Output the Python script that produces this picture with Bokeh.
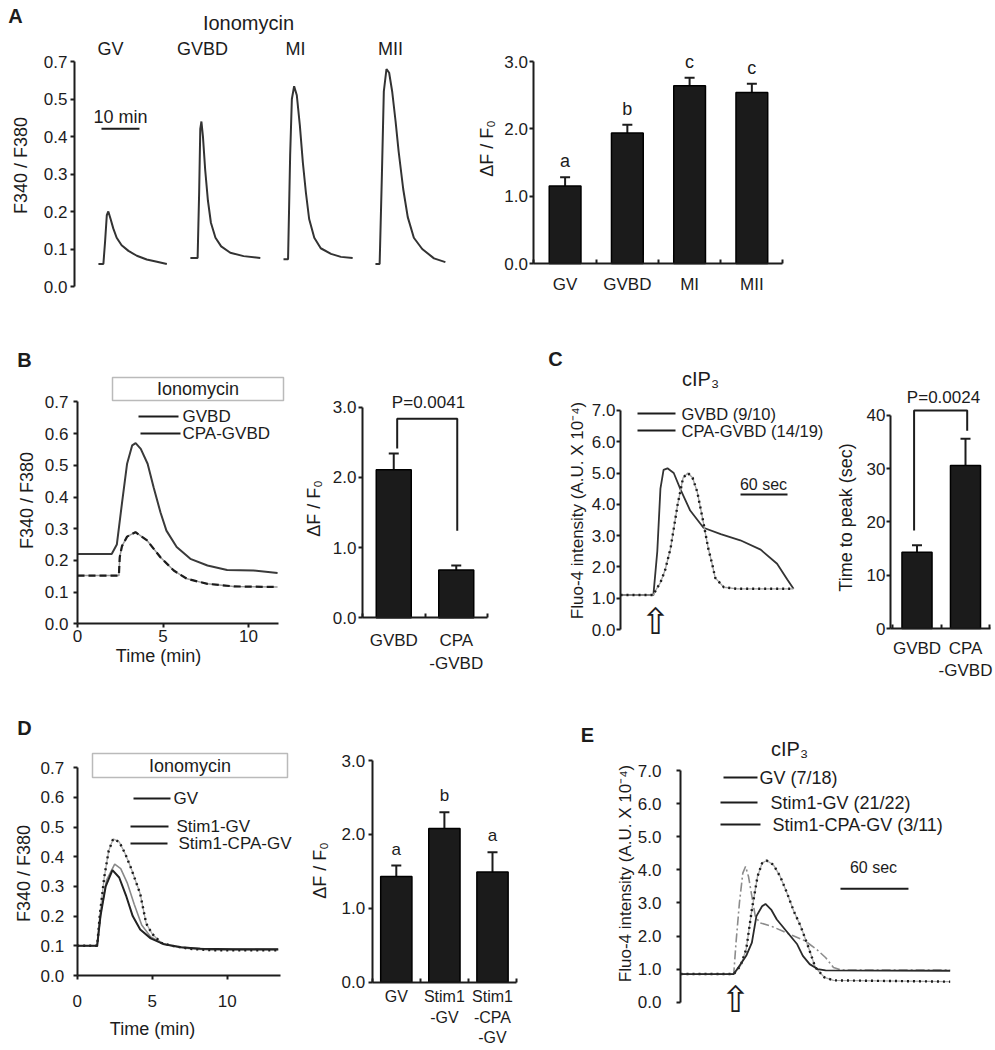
import json
import math
from bokeh.plotting import figure
from bokeh.layouts import row, column
from bokeh.models import (Label, BoxAnnotation, Whisker, TeeHead, ColumnDataSource,
                          FixedTicker, PrintfTickFormatter, CustomJSTickFormatter, Range1d)
from bokeh.embed import file_html
from bokeh.resources import INLINE

# ---------------- data ----------------
# Panel A: ionomycin traces (time in min from trace start, F340/F380)
A_stages = ["GV", "GVBD", "MI", "MII"]
A_gv_t = [0, 1.3, 1.75, 2.2, 2.6, 3.2, 3.9, 4.8, 6.1, 7.9, 10.1, 12.7, 15.4, 18.0]
A_gv_v = [0.06, 0.06, 0.12, 0.19, 0.20, 0.18, 0.155, 0.13, 0.11, 0.095, 0.082, 0.072, 0.066, 0.06]
A_gvbd_t = [0, 1.9, 2.3, 2.6, 2.9, 3.3, 3.9, 4.6, 5.4, 6.6, 8.1, 10.5, 14.0, 18.4]
A_gvbd_v = [0.076, 0.076, 0.25, 0.42, 0.44, 0.40, 0.31, 0.23, 0.17, 0.13, 0.107, 0.09, 0.081, 0.076]
A_mi_t = [0, 1.2, 1.75, 2.2, 2.8, 3.5, 4.3, 5.1, 5.9, 6.75, 8.1, 9.8, 12.5, 15.1, 18.2]
A_mi_v = [0.073, 0.073, 0.35, 0.50, 0.534, 0.51, 0.43, 0.33, 0.25, 0.18, 0.13, 0.102, 0.087, 0.079, 0.076]
A_mii_t = [0, 1.1, 1.7, 2.2, 2.9, 3.6, 4.4, 5.3, 6.1, 7.3, 8.5, 10.1, 12.3, 15.4, 18.4]
A_mii_v = [0.06, 0.06, 0.30, 0.52, 0.58, 0.57, 0.52, 0.44, 0.36, 0.26, 0.185, 0.13, 0.10, 0.075, 0.065]
A_y_ticks = [0.0, 0.1, 0.2, 0.3, 0.4, 0.5, 0.6]
A_y_labels = ["0.0", "0.1", "0.2", "0.3", "0.4", "0.5", "0.7"]

# Panel A bars
A_bar_cats = ["GV", "GVBD", "MI", "MII"]
A_bar_mean = [1.15, 1.94, 2.64, 2.54]
A_bar_sem = [0.13, 0.12, 0.12, 0.13]
A_bar_letters = ["a", "b", "c", "c"]

# Panel B traces (min, F340/F380)
B_gvbd_t = [0, 2.0, 2.3, 2.6, 2.9, 3.2, 3.4, 3.7, 4.1, 4.45, 4.85, 5.2, 5.8, 6.6, 7.6, 8.75, 10.3, 11.7]
B_gvbd_v = [0.22, 0.22, 0.25, 0.38, 0.505, 0.563, 0.57, 0.552, 0.505, 0.431, 0.352, 0.294, 0.242, 0.205, 0.184, 0.17, 0.168, 0.16]
B_cpa_t = [0, 2.42, 2.47, 2.6, 2.9, 3.39, 4.07, 4.85, 5.63, 6.4, 7.6, 9.14, 11.7]
B_cpa_v = [0.152, 0.152, 0.21, 0.245, 0.275, 0.289, 0.263, 0.21, 0.168, 0.142, 0.126, 0.118, 0.116]
B_bar_cats = ["GVBD", "CPA\n-GVBD"]
B_bar_mean = [2.11, 0.68]
B_bar_sem = [0.23, 0.065]
B_p_text = "P=0.0041"

# Panel C traces (sec, Fluo-4 intensity)
C_gvbd_t = [0, 42, 47, 51, 55, 60, 68, 77, 89, 106, 128, 153, 179, 200, 213, 221]
C_gvbd_v = [1.1, 1.1, 2.5, 4.5, 5.1, 5.15, 5.0, 4.45, 3.8, 3.25, 3.05, 2.85, 2.55, 2.1, 1.6, 1.3]
C_cpa_t = [0, 42, 46, 51, 57, 64, 73, 80, 86, 92, 98, 106, 112, 117, 121, 132, 149, 221]
C_cpa_v = [1.1, 1.1, 1.3, 1.5, 1.9, 2.6, 4.0, 4.85, 5.0, 4.85, 4.4, 3.4, 2.6, 2.1, 1.65, 1.35, 1.3, 1.3]
C_bar_cats = ["GVBD", "CPA\n-GVBD"]
C_bar_mean = [14.3, 30.6]
C_bar_sem = [1.3, 5.0]
C_p_text = "P=0.0024"

# Panel D traces (min, F340/F380)
D_gv_t = [0, 1.33, 1.55, 1.9, 2.35, 2.8, 3.25, 3.7, 4.2, 4.9, 5.8, 6.9, 8.2, 10.4, 13.4]
D_gv_v = [0.1, 0.1, 0.2, 0.3, 0.355, 0.33, 0.27, 0.2, 0.155, 0.125, 0.105, 0.095, 0.09, 0.088, 0.088]
D_sgv_t = [0, 1.33, 1.5, 1.8, 2.1, 2.4, 2.8, 3.2, 3.6, 4.2, 4.6, 5.0, 5.6, 6.3, 7.5, 9.0, 13.4]
D_sgv_v = [0.1, 0.1, 0.2, 0.33, 0.42, 0.46, 0.45, 0.41, 0.36, 0.275, 0.175, 0.14, 0.11, 0.1, 0.09, 0.085, 0.085]
D_scpa_t = [0, 1.33, 1.6, 1.95, 2.5, 2.9, 3.35, 3.8, 4.3, 4.9, 5.8, 7.0, 8.5, 13.4]
D_scpa_v = [0.1, 0.1, 0.22, 0.32, 0.375, 0.36, 0.31, 0.24, 0.17, 0.13, 0.105, 0.095, 0.09, 0.088]
D_bar_cats = ["GV", "Stim1\n-GV", "Stim1\n-CPA\n-GV"]
D_bar_mean = [1.43, 2.08, 1.49]
D_bar_sem = [0.15, 0.22, 0.27]
D_bar_letters = ["a", "b", "a"]

# Panel E traces (sec, Fluo-4 intensity)
E_gv_t = [0, 47, 53, 58, 63, 67, 72, 75, 80, 85, 91, 97, 103, 108, 114, 121, 128, 238]
E_gv_v = [0.85, 0.85, 1.15, 1.4, 1.8, 2.6, 2.9, 2.97, 2.8, 2.5, 2.25, 2.0, 1.75, 1.4, 1.15, 1.0, 0.96, 0.95]
E_sgv_t = [0, 47, 53, 58, 63, 68, 72, 76, 82, 88, 94, 100, 106, 113, 119, 127, 135, 238]
E_sgv_v = [0.85, 0.85, 1.1, 1.6, 2.8, 3.8, 4.2, 4.28, 4.15, 3.8, 3.3, 2.75, 2.3, 1.65, 1.05, 0.75, 0.66, 0.62]
E_scpa_t = [0, 47, 49, 52, 55, 57.4, 60, 63, 66, 70, 80, 90, 100, 110, 120, 128, 135, 142, 238]
E_scpa_v = [0.85, 0.85, 1.8, 3.0, 3.9, 4.1, 3.8, 3.2, 2.6, 2.4, 2.3, 2.15, 2.0, 1.85, 1.6, 1.35, 1.05, 0.97, 0.97]

# ---------------- styling helpers ----------------
FONT = "Liberation Sans"
INK = "#1c1c1c"
FLUO = "Fluo-4 intensity (A.U. X 10\u207b\u2074)"
DFF = "\u0394F / F\u2080"
TICK = "17px"


class Panel:
    """A figure whose frame fills the whole figure; page pixels <-> data."""

    def __init__(self, X0, X1, Y0, Y1, xmap, ymap):
        self.px, self.vx, self.sx = xmap
        self.py, self.vy, self.sy = ymap
        xr = (self.vx - (self.px - X0) / self.sx, self.vx + (X1 - self.px) / self.sx)
        yr = (self.vy - (Y1 - self.py) / self.sy, self.vy + (self.py - Y0) / self.sy)
        p = figure(width=X1 - X0, height=Y1 - Y0, x_range=Range1d(*xr), y_range=Range1d(*yr),
                   output_backend="svg", toolbar_location=None, title=None,
                   min_border_left=0, min_border_right=0, min_border_top=0, min_border_bottom=0)
        p.outline_line_color = None
        p.xgrid.visible = False
        p.ygrid.visible = False
        p.border_fill_color = "white"
        p.background_fill_color = "white"
        for ax in (p.xaxis[0], p.yaxis[0]):
            ax.axis_line_color = INK
            ax.axis_line_width = 2
            ax.major_tick_line_color = INK
            ax.major_tick_line_width = 2
            ax.major_tick_in = 0
            ax.major_tick_out = 4
            ax.minor_tick_line_color = None
            ax.major_label_text_font = FONT
            ax.major_label_text_font_size = TICK
            ax.major_label_text_color = INK
            ax.major_label_standoff = 4
        self.p = p

    def dx(self, X):
        return self.vx + (X - self.px) / self.sx

    def dy(self, Y):
        return self.vy + (self.py - Y) / self.sy

    def text(self, X, Y, s, size="17px", align="center", bold=False, font=FONT, angle=0.0):
        self.p.add_layout(Label(x=self.dx(X), y=self.dy(Y), text=s, text_font=font,
                                text_font_size=size, text_align=align, text_baseline="middle",
                                text_color=INK, angle=angle,
                                text_font_style="bold" if bold else "normal"))

    def ytitle(self, X, Y, s, size="18px"):
        self.text(X, Y, s, size=size, angle=math.pi / 2)

    def hline(self, X0, X1, Y, width=2):
        self.p.line([self.dx(X0), self.dx(X1)], [self.dy(Y), self.dy(Y)],
                    line_color=INK, line_width=width)

    def legend_item(self, X0, X1, Y, Xt, s, size="17px"):
        self.hline(X0, X1, Y)
        self.text(Xt, Y, s, size=size, align="left")

    def yaxis(self, ticks, fmt, top, loc, standoff):
        ax = self.p.yaxis[0]
        ax.fixed_location = loc
        ax.ticker = FixedTicker(ticks=ticks)
        ax.formatter = fmt if not isinstance(fmt, str) else PrintfTickFormatter(format=fmt)
        ax.bounds = (0, top)
        ax.major_label_standoff = standoff

    def time_xaxis(self, ticks, end, standoff):
        ax = self.p.xaxis[0]
        ax.fixed_location = 0
        ax.ticker = FixedTicker(ticks=ticks)
        ax.formatter = PrintfTickFormatter(format="%d")
        ax.bounds = (0, end)
        ax.major_label_standoff = standoff

    def bars(self, cats, means, sems, width, standoff, xbounds, label_size=TICK):
        xs = list(range(1, len(cats) + 1))
        src = ColumnDataSource(dict(x=xs, top=means, upper=[m + s for m, s in zip(means, sems)]))
        self.p.vbar(x="x", top="top", width=width, source=src, fill_color="#1b1b1b",
                    line_color="black", line_width=1.5)
        self.p.add_layout(Whisker(base="x", lower="top", upper="upper", source=src,
                                  line_color=INK, line_width=2, lower_head=None,
                                  upper_head=TeeHead(size=10, line_color=INK, line_width=2)))
        ax = self.p.xaxis[0]
        ax.fixed_location = 0
        ax.bounds = xbounds
        ax.ticker = FixedTicker(ticks=xs, minor_ticks=[0.5 + i for i in range(len(xs) + 1)])
        ax.major_label_overrides = {x: c for x, c in zip(xs, cats)}
        ax.major_tick_out = 0
        ax.minor_tick_line_color = INK
        ax.minor_tick_line_width = 2
        ax.minor_tick_in = 4
        ax.minor_tick_out = 0
        ax.major_label_standoff = standoff
        ax.major_label_text_font_size = label_size
        return xs

    def bracket(self, x0, x1, ytop, y0, y1):
        self.p.line([x0, x0, x1, x1], [y0, ytop, ytop, y1], line_color=INK, line_width=2)


# ---------------- Panel A traces ----------------
A = Panel(0, 470, 0, 320, (74, 0, 3.8), (286, 0, 375))
A.p.xaxis.visible = False
a_map = {f"{t:.1f}": s for t, s in zip(A_y_ticks, A_y_labels)}
A.yaxis(A_y_ticks, CustomJSTickFormatter(code=f"const m = {json.dumps(a_map)}; return m[tick.toFixed(1)];"),
        0.6, 0, 3)
offsets = [6.3, 30.5, 55.0, 79.2]
for off, t, v in zip(offsets, [A_gv_t, A_gvbd_t, A_mi_t, A_mii_t], [A_gv_v, A_gvbd_v, A_mi_v, A_mii_v]):
    A.p.line([off + ti for ti in t], v, line_color="#333333", line_width=2)
for X, s in zip([110, 202, 295, 390], A_stages):
    A.text(X, 48, s, size="18px")
A.text(248, 22, "Ionomycin", size="20px")
A.p.line([7.1, 17.1], [0.421, 0.421], line_color=INK, line_width=2)
A.text(120, 116, "10 min", size="18px")
A.text(15, 15, "A", size="20px", bold=True)
A.ytitle(20, 165, "F340 / F380")

# ---------------- Panel A bars ----------------
A2 = Panel(470, 800, 0, 320, (564.6, 1, 62.25), (263, 0, 67.33))
xs = A2.bars(A_bar_cats, A_bar_mean, A_bar_sem, 0.51, 11, (0.5, 4.5))
A2.yaxis([0, 1, 2, 3], "%.1f", 3, 0.5, 2)
for x, m, s, l in zip(xs, A_bar_mean, A_bar_sem, A_bar_letters):
    A2.p.add_layout(Label(x=x, y=m + s + 0.24, text=l, text_font=FONT, text_font_size="18px",
                          text_align="center", text_baseline="middle", text_color=INK))
A2.ytitle(486, 148, DFF)

# ---------------- Panel B traces ----------------
B = Panel(0, 300, 320, 680, (77, 0, 17.1), (623.3, 0, 317))
B.yaxis([0, 0.1, 0.2, 0.3, 0.4, 0.5, 0.6, 0.7], "%.1f", 0.7, 0, 5)
B.time_xaxis([0, 5, 10], 11.75, 2)
B.p.line(B_gvbd_t, B_gvbd_v, line_color="#3a3a3a", line_width=2)
B.p.line(B_cpa_t, B_cpa_v, line_color="#9a9a9a", line_width=1.5)
B.p.line(B_cpa_t, B_cpa_v, line_color=INK, line_width=2.2, line_dash="7 4")
B.p.add_layout(BoxAnnotation(left=B.dx(112), right=B.dx(283), bottom=B.dy(400), top=B.dy(377),
                             fill_color="white", fill_alpha=1, line_color=INK, line_width=1.5))
B.text(197.5, 388, "Ionomycin", size="18px")
B.legend_item(138, 178, 416, 182, "GVBD")
B.legend_item(140, 180, 433, 182, "CPA-GVBD")
B.text(24, 359, "B", size="20px", bold=True)
B.ytitle(26, 500, "F340 / F380")
B.text(158, 655, "Time (min)", size="18px")

# ---------------- Panel B bars ----------------
B2 = Panel(300, 500, 320, 680, (393.25, 1, 62.5), (617.3, 0, 70.2))
B2.bars(B_bar_cats, B_bar_mean, B_bar_sem, 0.56, 13, (0.5, 2.5))
B2.yaxis([0, 1, 2, 3], "%.1f", 3, 0.5, 2)
B2.bracket(1.055, 2.016, 2.835, 2.41, 1.24)
B2.text(428, 402, B_p_text, size="17px")
B2.ytitle(313, 508, DFF)

# ---------------- Panel C traces ----------------
C = Panel(500, 832, 320, 680, (620, 0, 0.783), (629, 0, 31.3))
C.p.xaxis.visible = False
C.yaxis([0, 1, 2, 3, 4, 5, 6, 7], "%.1f", 7, 0, 1)
C.p.line(C_gvbd_t, C_gvbd_v, line_color="#333333", line_width=1.8)
C.p.line(C_cpa_t, C_cpa_v, line_color="#a0a0a0", line_width=1.3)
C.p.line(C_cpa_t, C_cpa_v, line_color=INK, line_width=2.4, line_dash="2 4")
C.legend_item(637, 675, 413, 681, "GVBD (9/10)", size="16.5px")
C.legend_item(637, 675, 430, 681, "CPA-GVBD (14/19)", size="16.5px")
C.text(700, 378, "cIP\u2083", size="20px")
C.p.line([153.3, 213.3], [4.31, 4.31], line_color=INK, line_width=2)
C.text(763, 484, "60 sec", size="16px")
C.text(655, 621, "\u21e7", size="36px", font="DejaVu Sans")
C.text(555, 358, "C", size="20px", bold=True)
C.ytitle(577, 510, FLUO, size="17px")

# ---------------- Panel C bars ----------------
C2 = Panel(832, 993, 320, 680, (916.5, 1, 48.5), (628, 0, 5.33))
axis_x = C2.dx(890)
C2.bars(C_bar_cats, C_bar_mean, C_bar_sem, 0.62, 10, (axis_x, C2.dx(990)))
C2.yaxis([0, 10, 20, 30, 40], "%d", 40, axis_x, 1)
C2.bracket(0.94, 2.035, 40.9, 18.4, 37.1)
C2.text(943, 397, C_p_text, size="17px")
C2.ytitle(845, 517, "Time to peak (sec)")

# ---------------- Panel D traces ----------------
D = Panel(0, 300, 680, 1050, (76.7, 0, 15), (975, 0, 297))
D.yaxis([0, 0.1, 0.2, 0.3, 0.4, 0.5, 0.6, 0.7], "%.1f", 0.7, 0, 9)
D.time_xaxis([0, 5, 10], 13.53, 15)
D.p.line(D_scpa_t, D_scpa_v, line_color="#8a8a8a", line_width=1.6)
D.p.line(D_sgv_t, D_sgv_v, line_color="#a8a8a8", line_width=1.3)
D.p.line(D_sgv_t, D_sgv_v, line_color=INK, line_width=2.4, line_dash="2 4")
D.p.line(D_gv_t, D_gv_v, line_color="#222222", line_width=2)
D.p.add_layout(BoxAnnotation(left=D.dx(92), right=D.dx(287), bottom=D.dy(777), top=D.dy(753),
                             fill_color="white", fill_alpha=1, line_color=INK, line_width=1.5))
D.text(189.5, 765, "Ionomycin", size="18px")
D.legend_item(133, 170, 798, 173, "GV")
D.legend_item(130, 168, 826, 176, "Stim1-GV")
D.legend_item(130, 167, 843, 178, "Stim1-CPA-GV")
D.text(24, 727, "D", size="20px", bold=True)
D.ytitle(23, 873, "F340 / F380")
D.text(152, 1028, "Time (min)", size="18px")

# ---------------- Panel D bars ----------------
D2 = Panel(300, 530, 680, 1050, (395.8, 1, 48.1), (981.7, 0, 73.9))
xs = D2.bars(D_bar_cats, D_bar_mean, D_bar_sem, 0.65, 6, (0.5, 3.5), label_size="16px")
D2.yaxis([0, 1, 2, 3], "%.1f", 3, 0.5, 3)
for x, m, s, l in zip(xs, D_bar_mean, D_bar_sem, D_bar_letters):
    D2.p.add_layout(Label(x=x, y=m + s + 0.22, text=l, text_font=FONT, text_font_size="17px",
                          text_align="center", text_baseline="middle", text_color=INK))
D2.ytitle(319, 870, DFF)

# ---------------- Panel E traces ----------------
E = Panel(530, 993, 680, 1050, (680, 0, 1.133), (1001.7, 0, 33.1))
E.p.xaxis.visible = False
E.yaxis([0, 1, 2, 3, 4, 5, 6, 7], "%.1f", 7, 0, 15)
E.p.line(E_scpa_t, E_scpa_v, line_color="#8c8c8c", line_width=1.6, line_dash="9 3 2 3")
E.p.line(E_sgv_t, E_sgv_v, line_color="#a8a8a8", line_width=1.3)
E.p.line(E_sgv_t, E_sgv_v, line_color=INK, line_width=2.4, line_dash="2 4")
E.p.line(E_gv_t, E_gv_v, line_color="#2a2a2a", line_width=1.8)
E.legend_item(723, 757, 777, 759, "GV (7/18)", size="18px")
E.legend_item(720, 757, 802, 770, "Stim1-GV (21/22)", size="18px")
E.legend_item(720, 760, 824, 772, "Stim1-CPA-GV (3/11)", size="18px")
E.text(789, 748, "cIP\u2083", size="20px")
E.p.line([141.2, 201.2], [3.43, 3.43], line_color=INK, line_width=2)
E.text(873, 867, "60 sec", size="16px")
E.text(735, 999, "\u21e7", size="36px", font="DejaVu Sans")
E.text(587, 734, "E", size="20px", bold=True)
E.ytitle(625, 873, FLUO, size="17px")

layout = column(row(A.p, A2.p), row(B.p, B2.p, C.p, C2.p), row(D.p, D2.p, E.p))
open("out.html", "w").write(file_html(layout, INLINE))
